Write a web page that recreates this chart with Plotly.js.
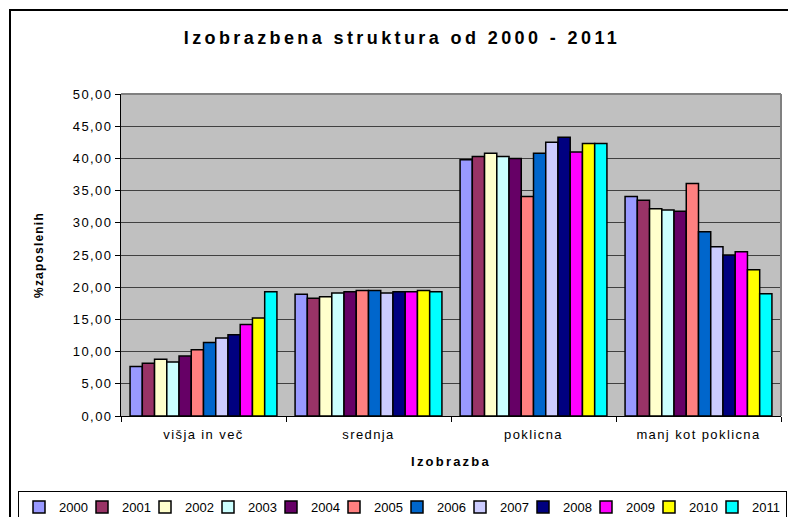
<!DOCTYPE html>
<html>
<head>
<meta charset="utf-8">
<script src="https://cdn.plot.ly/plotly-3.0.1.min.js"></script>
<style>
html,body{margin:0;padding:0;background:#fff;}
#chart{width:788px;height:517px;}
#chart .gtitle{letter-spacing:3.4px;}
#chart .xtick text, #chart .ytick text{letter-spacing:1.4px;}
#chart .xtitle{letter-spacing:2.2px;}
#chart .ytitle{letter-spacing:1.2px;}
#chart .legend .scrollbox{clip-path:none !important;}
#chart .legend rect.bg{width:768px;}
</style>
</head>
<body>
<div id="chart"></div>
<script>
const categories = ["višja in več", "srednja", "poklicna", "manj kot poklicna"];
const years = ["2000","2001","2002","2003","2004","2005","2006","2007","2008","2009","2010","2011"];
const colors = ["#9999FF","#993366","#FFFFCC","#CCFFFF","#660066","#FF8080","#0066CC","#CCCCFF","#000080","#FF00FF","#FFFF00","#00FFFF"];
// values per year: [višja in več, srednja, poklicna, manj kot poklicna]
const v2000 = [7.7, 18.9, 39.8, 34.1];
const v2001 = [8.2, 18.3, 40.3, 33.5];
const v2002 = [8.8, 18.5, 40.8, 32.2];
const v2003 = [8.4, 19.1, 40.3, 32.0];
const v2004 = [9.3, 19.3, 40.0, 31.8];
const v2005 = [10.3, 19.5, 34.1, 36.1];
const v2006 = [11.4, 19.5, 40.8, 28.6];
const v2007 = [12.1, 19.1, 42.5, 26.3];
const v2008 = [12.6, 19.3, 43.3, 25.0];
const v2009 = [14.2, 19.3, 41.0, 25.5];
const v2010 = [15.2, 19.5, 42.3, 22.7];
const v2011 = [19.3, 19.3, 42.3, 19.0];
const series = [v2000,v2001,v2002,v2003,v2004,v2005,v2006,v2007,v2008,v2009,v2010,v2011];

const FONT = "Liberation Sans, Arial, sans-serif";

const data = series.map((vals, i) => ({
  type: "bar",
  name: years[i],
  x: categories,
  y: vals,
  marker: {color: colors[i], line: {color: "#000000", width: 1.5}},
  hoverinfo: "x+y+name"
}));

const W = 788, H = 517;
const ml = 10, mr = 7, mt = 94, mb = 101;
const plotLeft = 121;
const pw = W - ml - mr, ph = H - mt - mb;
const px = x => (x - ml) / pw;
const py = y => (H - mb - y) / ph;

const layout = {
  width: W, height: H,
  margin: {l: ml, r: mr, t: mt, b: mb, pad: 0},
  paper_bgcolor: "#ffffff",
  plot_bgcolor: "#C0C0C0",
  barmode: "group",
  bargap: 0.11,
  bargroupgap: 0,
  separators: ",.",
  font: {family: FONT, size: 13, color: "#000"},
  title: {
    text: "<b>Izobrazbena struktura od 2000 - 2011</b>",
    font: {family: FONT, size: 18, color: "#000"},
    x: 402/788, xanchor: "center", xref: "container",
    y: 1 - 38/517, yanchor: "middle", yref: "container"
  },
  xaxis: {
    type: "category",
    domain: [px(plotLeft), 1],
    tickson: "boundaries",
    ticks: "outside", ticklen: 5, tickcolor: "#000", tickwidth: 1,
    ticklabelstandoff: 6,
    showline: true, linecolor: "#000", linewidth: 1,
    showgrid: false,
    tickfont: {family: FONT, size: 13},
    title: {text: "<b>Izobrazba</b>", font: {family: FONT, size: 13}, standoff: 16}
  },
  yaxis: {
    range: [0, 50],
    dtick: 5,
    tickformat: ".2f",
    ticks: "outside", ticklen: 5, tickcolor: "#000", tickwidth: 1,
    showline: true, linecolor: "#000", linewidth: 1,
    showgrid: true, gridcolor: "#404040", gridwidth: 1,
    zeroline: false,
    automargin: false,
    tickfont: {family: FONT, size: 13},
    title: {text: "<b>%zaposlenih</b>", font: {family: FONT, size: 12}, standoff: 33}
  },
  legend: {
    orientation: "h",
    xref: "container", yref: "container",
    x: 18/788, xanchor: "left",
    y: 1 - 491/517, yanchor: "top",
    bgcolor: "#fff",
    bordercolor: "#000", borderwidth: 1,
    font: {family: FONT, size: 13},
    entrywidth: 18,
    entrywidthmode: "pixels",
    traceorder: "normal",
    itemclick: false
  },
  shapes: [
    {type: "rect", xref: "paper", yref: "paper", x0: px(10), x1: px(W + 20), y0: py(H + 20), y1: py(10),
     line: {color: "#000", width: 2}, fillcolor: "rgba(0,0,0,0)", layer: "below"},
    {type: "line", xref: "x domain", yref: "y domain", x0: 0, x1: 1, y0: 1, y1: 1, line: {color: "#808080", width: 2}},
    {type: "line", xref: "x domain", yref: "y domain", x0: 1, x1: 1, y0: 0, y1: 1, line: {color: "#808080", width: 2}}
  ],
  showlegend: true
};

Plotly.newPlot("chart", data, layout, {displayModeBar: false, staticPlot: false});
</script>
</body>
</html>
